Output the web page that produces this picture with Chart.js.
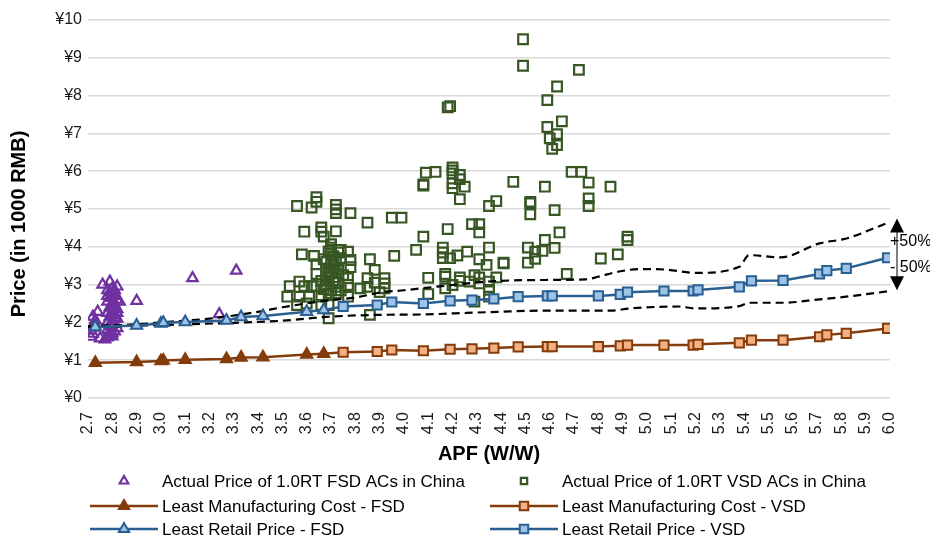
<!DOCTYPE html>
<html>
<head>
<meta charset="utf-8">
<script src="https://cdn.jsdelivr.net/npm/chart.js@4.4.1/dist/chart.umd.min.js"></script>
<style>
  html, body { margin: 0; padding: 0; background: #fff; }
  #wrap { width: 930px; height: 542px; }
</style>
</head>
<body>
<div id="wrap"><canvas id="chart" width="930" height="542"></canvas></div>
<script>
// --- datos ---
const xTicks = [2.7, 6.0, 0.1];          // min, max, step
const yTicks = [0, 10, 1];

// precio real de los equipos (APF, miles de RMB)
const fsdActual = [
  [2.71,1.62],[2.72,1.70],[2.71,1.78],[2.72,1.86],[2.73,1.95],[2.73,2.06],[2.74,2.28],[2.72,2.15],[2.75,1.58],[2.76,3.00],[2.79,3.08],
  [2.78,1.60],[2.79,1.66],[2.80,1.71],[2.81,1.76],[2.78,1.80],[2.80,1.86],[2.79,1.91],[2.81,1.96],[2.78,2.00],[2.80,2.05],
  [2.82,2.10],[2.79,2.15],[2.81,2.20],[2.78,2.25],[2.80,2.30],[2.82,2.35],[2.79,2.40],[2.81,2.45],[2.80,2.50],[2.78,2.55],
  [2.82,2.60],[2.79,2.65],[2.81,2.70],[2.80,2.75],[2.79,2.80],[2.81,2.85],[2.80,2.90],[2.82,2.95],[2.78,2.70],[2.80,2.40],
  [2.81,2.10],[2.79,1.75],[2.82,1.85],[2.80,1.63],[2.82,2.25],[2.78,2.85],[2.77,1.55],[2.83,2.55],
  [2.90,2.57],[3.13,3.17],[3.31,3.37],[3.24,2.22]
];
const vsdActual = [
  [4.49,9.49],[4.49,8.79],[4.72,8.68],[4.63,8.24],[4.59,7.88],[4.18,7.69],[4.19,7.72],[4.65,7.32],[4.59,7.17],[4.63,6.98],
  [4.60,6.87],[4.63,6.69],[4.61,6.59],
  [4.09,5.96],[4.13,5.98],[4.20,6.10],[4.20,6.02],[4.20,5.94],[4.23,5.90],[4.23,5.79],[4.20,5.68],[4.20,5.55],[4.25,5.59],
  [4.08,5.65],[4.08,5.62],[4.23,5.26],[4.45,5.72],[4.58,5.59],[4.69,5.98],[4.73,5.98],[4.76,5.70],[4.85,5.59],[4.76,5.28],
  [4.76,5.08],[4.52,5.19],[4.52,5.15],[4.52,4.86],[4.35,5.08],[4.38,5.21],[4.62,4.97],
  [3.99,4.77],[4.28,4.60],[4.31,4.60],[4.31,4.38],[4.18,4.47],[4.08,4.27],[4.64,4.38],[4.58,4.18],[4.62,3.97],[4.92,4.27],
  [4.92,4.18],[4.88,3.80],[4.81,3.69],
  [4.05,3.92],[4.16,3.98],[4.16,3.85],[4.16,3.70],[4.19,3.70],[4.22,3.77],[4.26,3.87],[4.31,3.67],[4.34,3.52],[4.35,3.98],
  [4.41,3.58],[4.51,3.98],[4.54,3.87],[4.57,3.89],[4.51,3.58],[4.54,3.68],[4.67,3.28],
  [4.10,3.18],[4.17,3.28],[4.17,3.21],[4.23,3.19],[4.29,3.25],[4.31,3.19],[4.38,3.19],[4.20,2.99],[4.23,3.10],[4.27,3.08],
  [4.31,3.03],[4.35,3.08],[4.35,2.86],[4.35,2.68],[4.17,2.90],[4.10,2.75],[4.29,2.55],[4.41,3.56],
  [3.56,5.08],[3.62,5.04],[3.64,5.31],[3.64,5.19],[3.72,5.11],[3.72,4.99],[3.72,4.89],[3.78,4.89],[3.85,4.64],[3.95,4.77],
  [3.59,4.40],[3.66,4.51],[3.66,4.40],[3.67,4.27],[3.72,4.41],[3.70,4.07],[3.58,3.80],[3.63,3.76],[3.67,3.67],[3.70,3.98],
  [3.70,3.92],[3.74,3.92],[3.77,3.87],[3.74,3.70],[3.78,3.65],[3.86,3.67],[3.96,3.76],[3.64,3.54],[3.78,3.46],[3.69,3.43],
  [3.71,3.43],[3.64,3.28],[3.69,3.30],[3.72,3.30],[3.88,3.39],[3.85,3.17],[3.92,3.17],[3.77,3.17],[3.69,3.17],
  [3.53,2.96],[3.57,3.08],[3.59,2.96],[3.62,2.96],[3.64,2.96],[3.68,2.99],[3.72,2.94],[3.77,2.99],[3.82,2.90],[3.85,2.94],
  [3.92,3.03],[3.92,2.90],[3.52,2.68],[3.57,2.68],[3.61,2.68],[3.66,2.68],[3.69,2.77],[3.72,2.77],[3.77,2.68],
  [3.56,2.46],[3.60,2.50],[3.66,2.46],[3.69,2.46],[3.69,2.11],[3.86,2.20],
  [3.70,3.55],[3.72,3.62],[3.68,3.22],[3.71,3.10],[3.73,3.05],[3.70,2.85],[3.74,2.85],[3.66,3.10],[3.70,3.35],[3.73,3.40],
  [3.68,3.60],[3.71,3.75],[3.73,3.85],[3.69,3.88],[3.90,2.80],[3.88,3.05],[3.75,3.25],[3.67,2.88]
];

// costes y precios mínimos
const fsdLineX   = [2.73, 2.90, 3.00, 3.01, 3.10, 3.27, 3.33, 3.42, 3.60, 3.67];
const fsdCost    = [0.93, 0.95, 0.98, 0.99, 1.01, 1.03, 1.07, 1.08, 1.15, 1.17];
const fsdRetail  = [1.88, 1.92, 1.97, 1.99, 2.01, 2.05, 2.14, 2.17, 2.28, 2.33];
const vsdLineX   = [3.75, 3.89, 3.95, 4.08, 4.19, 4.28, 4.37, 4.47, 4.59, 4.61, 4.80, 4.89, 4.92, 5.07, 5.19, 5.21, 5.38, 5.43, 5.56, 5.71, 5.74, 5.82, 5.99];
const vsdCost    = [1.21, 1.23, 1.27, 1.25, 1.29, 1.30, 1.32, 1.35, 1.36, 1.36, 1.36, 1.38, 1.40, 1.40, 1.40, 1.42, 1.46, 1.53, 1.53, 1.62, 1.67, 1.71, 1.84];
const vsdRetail  = [2.42, 2.46, 2.54, 2.50, 2.57, 2.59, 2.62, 2.68, 2.70, 2.70, 2.70, 2.74, 2.80, 2.83, 2.83, 2.86, 2.94, 3.10, 3.11, 3.28, 3.37, 3.43, 3.71];

// banda +/- (líneas discontinuas)
const upperX = [2.70, 2.90, 3.00, 3.20, 3.40, 3.50, 3.65, 3.82, 3.90, 4.00, 4.10, 4.20, 4.34, 4.52, 4.75, 4.80, 4.88, 4.97, 5.07, 5.20, 5.38, 5.42, 5.55, 5.71, 5.82, 6.00];
const upperY = [1.90, 1.95, 2.00, 2.10, 2.28, 2.40, 2.55, 2.68, 2.79, 2.85, 2.92, 2.99, 3.08, 3.12, 3.14, 3.21, 3.34, 3.41, 3.40, 3.31, 3.47, 3.78, 3.72, 4.09, 4.22, 4.66];
const lowerX = [2.70, 3.00, 3.30, 3.49, 3.69, 3.90, 4.08, 4.21, 4.39, 4.57, 4.85, 4.93, 5.13, 5.20, 5.38, 5.42, 5.56, 5.71, 5.82, 6.00];
const lowerY = [1.88, 1.93, 1.99, 2.04, 2.15, 2.20, 2.21, 2.24, 2.28, 2.31, 2.31, 2.37, 2.42, 2.37, 2.43, 2.52, 2.52, 2.61, 2.68, 2.83];

const labels = [
  'Actual Price of 1.0RT FSD ACs in China',
  'Actual Price of 1.0RT VSD ACs in China',
  'Least Manufacturing Cost - FSD',
  'Least Manufacturing Cost - VSD',
  'Least Retail Price - FSD',
  'Least Retail Price - VSD'
];

const FONT = '"Liberation Sans", Arial, sans-serif';
const pts = (xs, ys) => xs.map((v, i) => ({ x: v, y: ys[i] }));
const pairs = arr => arr.map(p => ({ x: p[0], y: p[1] }));

// la línea VSD arranca en el último punto FSD (sin marcador)
const joinStart = (xs, ys, fx, fy) => [{ x: fx[fx.length - 1], y: fy[fy.length - 1] }].concat(pts(xs, ys));
const hideFirst = r => c => (c.dataIndex === 0 ? 0 : r);

const BROWN = '#843C0C', BLUE = '#2A5F92';

// --- leyenda, títulos y flecha ---
const overlay = {
  id: 'overlay',
  afterDraw(chart) {
    const { ctx, chartArea: a, scales: { x, y } } = chart;
    ctx.save();
    ctx.fillStyle = '#000';
    ctx.textBaseline = 'middle';

    // títulos de ejes
    ctx.font = 'bold 20px ' + FONT;
    ctx.textAlign = 'center';
    ctx.fillText('APF (W/W)', (a.left + a.right) / 2, 454);
    ctx.save();
    ctx.translate(19, 224);
    ctx.rotate(-Math.PI / 2);
    ctx.fillText('Price (in 1000 RMB)', 0, 0);
    ctx.restore();

    // flecha +/-50%
    const ax = x.getPixelForValue(6.0) + 7;
    const top = y.getPixelForValue(4.75), bot = y.getPixelForValue(2.85);
    ctx.strokeStyle = '#7F7F7F';
    ctx.lineWidth = 2;
    ctx.beginPath(); ctx.moveTo(ax, top + 10); ctx.lineTo(ax, bot - 10); ctx.stroke();
    ctx.fillStyle = '#000';
    ctx.beginPath(); ctx.moveTo(ax, top); ctx.lineTo(ax - 7, top + 14); ctx.lineTo(ax + 7, top + 14); ctx.closePath(); ctx.fill();
    ctx.beginPath(); ctx.moveTo(ax, bot); ctx.lineTo(ax - 7, bot - 14); ctx.lineTo(ax + 7, bot - 14); ctx.closePath(); ctx.fill();
    ctx.font = '16px ' + FONT;
    ctx.textAlign = 'left';
    ctx.fillText('+50%', 890, 242);
    ctx.fillText('- 50%', 890, 268);

    // leyenda en dos columnas
    const colX = [90, 490], rowY = [481, 506, 529];
    ctx.font = '17px ' + FONT;
    chart.data.datasets.forEach((ds) => {
      if (ds.legendIndex === undefined) return;
      const k = ds.legendIndex;
      const x0 = colX[k % 2], y0 = rowY[Math.floor(k / 2)];
      const mid = x0 + 34;
      if (ds.showLine) {
        ctx.strokeStyle = ds.borderColor;
        ctx.lineWidth = ds.borderWidth;
        ctx.setLineDash([]);
        ctx.beginPath(); ctx.moveTo(x0, y0); ctx.lineTo(x0 + 68, y0); ctx.stroke();
      }
      ctx.fillStyle = ds.pointBackgroundColor;
      ctx.strokeStyle = ds.pointBorderColor;
      ctx.lineWidth = ds.pointBorderWidth;
      Chart.helpers.drawPoint(ctx, {
        pointStyle: ds.pointStyle, radius: ds.legendRadius, rotation: 0, borderWidth: ds.pointBorderWidth
      }, mid, y0);
      ctx.fillStyle = '#000';
      ctx.fillText(labels[k], x0 + 72, y0 + 1);
    });
    ctx.restore();
  }
};

const scatterSet = (data, style, color, r, k, lr) => ({
  data, showLine: false, pointStyle: style, pointRadius: r,
  pointBackgroundColor: 'rgba(0,0,0,0)', pointBorderColor: color, pointBorderWidth: 2.2,
  legendIndex: k, legendRadius: lr, order: 10
});
const lineSet = (data, style, line, fill, r, k) => ({
  data, showLine: true, borderColor: line, borderWidth: 2.5, pointStyle: style,
  pointRadius: r, pointBackgroundColor: fill, pointBorderColor: line, pointBorderWidth: 2,
  legendIndex: k, legendRadius: 6, order: 1
});
const dashSet = (data) => ({
  data, showLine: true, borderColor: '#000', borderWidth: 2.2, borderDash: [8, 5],
  pointRadius: 0, cubicInterpolationMode: 'monotone', order: 5
});

new Chart(document.getElementById('chart'), {
  type: 'scatter',
  data: {
    datasets: [
      scatterSet(pairs(fsdActual), 'triangle', '#7030A0', 6, 0, 5),
      scatterSet(pairs(vsdActual), 'rect', '#375623', 6.8, 1, 4.5),
      dashSet(pts(upperX, upperY)),
      dashSet(pts(lowerX, lowerY)),
      lineSet(pts(fsdLineX, fsdCost), 'triangle', BROWN, BROWN, 6.5, 2),
      lineSet(joinStart(vsdLineX, vsdCost, fsdLineX, fsdCost), 'rect', BROWN, '#F4B183', hideFirst(6.5), 3),
      lineSet(pts(fsdLineX, fsdRetail), 'triangle', BLUE, '#9DC3E6', 6.5, 4),
      lineSet(joinStart(vsdLineX, vsdRetail, fsdLineX, fsdRetail), 'rect', BLUE, '#9DC3E6', hideFirst(6.5), 5)
    ]
  },
  options: {
    responsive: false,
    animation: false,
    events: [],
    layout: { padding: { left: 0, right: 40, top: 20, bottom: 0 } },
    plugins: { legend: { display: false }, tooltip: { enabled: false } },
    scales: {
      x: {
        type: 'linear', min: xTicks[0], max: xTicks[1],
        afterFit: s => { s.height = 144; },
        grid: { display: false },
        border: { display: false },
        ticks: {
          stepSize: xTicks[2], autoSkip: false, maxRotation: 90, minRotation: 90, padding: 6,
          color: '#1a1a1a', font: { family: FONT, size: 16 },
          callback: v => Number(v).toFixed(1)
        }
      },
      y: {
        min: yTicks[0], max: yTicks[1],
        afterFit: s => { s.width = 88; },
        grid: { color: '#D9D9D9', lineWidth: 1.5, drawTicks: false },
        border: { display: false },
        ticks: {
          stepSize: yTicks[2], padding: 6,
          color: '#1a1a1a', font: { family: FONT, size: 16 },
          callback: v => '¥' + v
        }
      }
    }
  },
  plugins: [overlay]
});
</script>
</body>
</html>
